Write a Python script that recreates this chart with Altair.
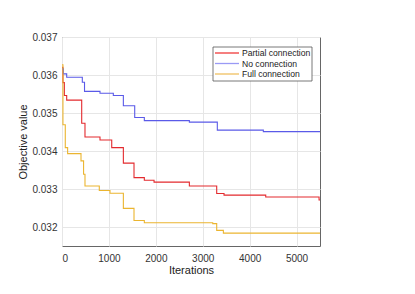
import altair as alt
import pandas as pd

series_names = ["Partial connection", "No connection", "Full connection"]
series_colors = ["#e32a2e", "#5a5ae8", "#ebb530"]
legend_colors = ["#f03a3a", "#9a9af5", "#f0c060"]

partial_x = [0, 20, 50, 100, 420, 490, 810, 1060, 1308, 1535, 1755, 1962, 2715, 3298, 3454, 4343, 5480, 5500]
partial_y = [0.0362, 0.0358, 0.03546, 0.03534, 0.03473, 0.03437, 0.03429, 0.03409, 0.03368, 0.03330,
             0.03323, 0.03318, 0.03308, 0.03288, 0.03284, 0.03279, 0.03271, 0.03271]

none_x = [0, 30, 100, 433, 480, 810, 1094, 1308, 1550, 1755, 2715, 3311, 4292, 5500]
none_y = [0.03616, 0.03603, 0.03594, 0.03581, 0.03557, 0.03552, 0.03546, 0.03519, 0.03488, 0.03480,
          0.03476, 0.03455, 0.03451, 0.03451]

full_x = [0, 20, 70, 120, 405, 460, 490, 795, 1023, 1308, 1535, 1755, 3213, 3298, 3440, 5500]
full_y = [0.03627, 0.03469, 0.03409, 0.03393, 0.03374, 0.03339, 0.03308, 0.03296, 0.03289, 0.03249,
          0.03217, 0.03211, 0.03209, 0.03191, 0.03184, 0.03184]

x_ticks = [0, 1000, 2000, 3000, 4000, 5000]
y_ticks = [0.032, 0.033, 0.034, 0.035, 0.036, 0.037]

rows = []
for name, xs, ys in zip(series_names, [partial_x, none_x, full_x], [partial_y, none_y, full_y]):
    for xv, yv in zip(xs, ys):
        rows.append({"Iterations": xv, "Objective value": yv, "Series": name})
df = pd.DataFrame(rows)

legend_df = pd.DataFrame({"Series": series_names, "idx": [0, 1, 2]})

font = "Liberation Sans"

lines = alt.Chart(df).mark_line(interpolate="step-after", strokeWidth=1.1, clip=True).encode(
    x=alt.X("Iterations:Q", scale=alt.Scale(domain=[0, 5500], nice=False, zero=False),
            axis=alt.Axis(values=x_ticks, format="d", title="Iterations", ticks=False, labelPadding=7,
                          titlePadding=1)),
    y=alt.Y("Objective value:Q", scale=alt.Scale(domain=[0.0315, 0.037], nice=False, zero=False),
            axis=alt.Axis(values=y_ticks, format=".3f", title="Objective value", ticks=False,
                          labelPadding=5, titlePadding=3)),
    color=alt.Color("Series:N", sort=series_names,
                    scale=alt.Scale(domain=series_names, range=series_colors), legend=None),
)

box = alt.Chart(pd.DataFrame({"a": [0]})).mark_rect(fill="white", stroke="#555", strokeWidth=0.8).encode(
    x=alt.value(151), x2=alt.value(250), y=alt.value(10), y2=alt.value(44)
)

leg_y = alt.Y("idx:O", scale=alt.Scale(type="point", range=[16, 37], padding=0), axis=None)

leg_rules = alt.Chart(legend_df).mark_rule(strokeWidth=1.3).encode(
    x=alt.value(153), x2=alt.value(177), y=leg_y,
    color=alt.Color("Series:N", scale=alt.Scale(domain=series_names, range=legend_colors), legend=None),
)

leg_text = alt.Chart(legend_df).mark_text(align="left", baseline="middle", fontSize=8.6, font=font,
                                          color="#222").encode(
    x=alt.value(180), y=leg_y, text="Series:N"
)

chart = alt.layer(lines, box, leg_rules, leg_text).resolve_scale(y="independent", color="independent").properties(
    width=258, height=209
).configure(
    autosize=alt.AutoSizeParams(type="none"),
    padding={"left": 54, "top": 29, "right": 87, "bottom": 40},
    background="white",
).configure_view(stroke="#666", strokeWidth=1).configure_axis(
    labelFont=font, titleFont=font, labelFontSize=10, titleFontSize=11,
    labelColor="#333", titleColor="#222", titleFontWeight="normal",
    gridColor="#e6e6e6", domain=False,
)

chart.save("out.html", embed_options={"renderer": "svg", "actions": False})
